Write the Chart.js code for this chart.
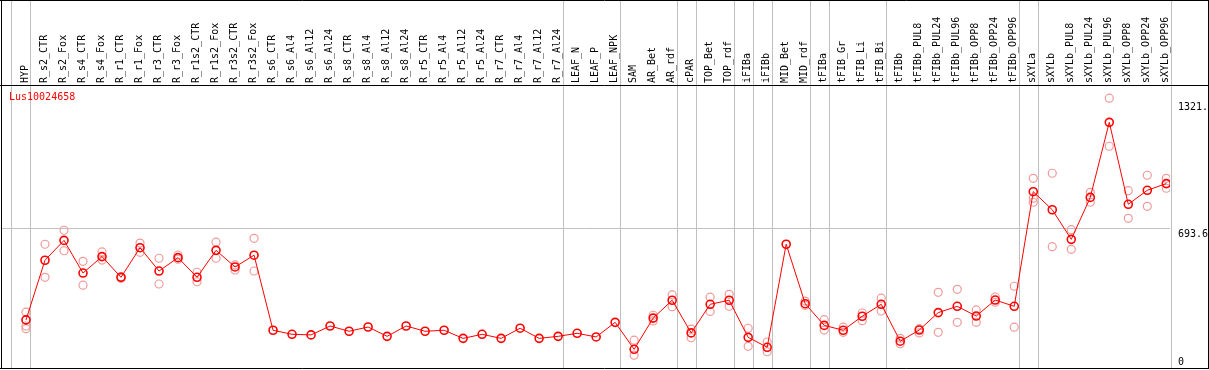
<!DOCTYPE html>
<html>
<head>
<meta charset="utf-8">
<script src="https://cdn.jsdelivr.net/npm/chart.js@4.4.1/dist/chart.umd.min.js"></script>
<style>
  html, body { margin: 0; padding: 0; background: #fff; }
  canvas { display: block; }
</style>
</head>
<body>
<canvas id="expr" width="1209" height="370"></canvas>
<script>
const geneName = "Lus10024658";

const samples = [
  "HYP", "R_s2_CTR", "R_s2_Fox", "R_s4_CTR", "R_s4_Fox", "R_r1_CTR", "R_r1_Fox",
  "R_r3_CTR", "R_r3_Fox", "R_r1s2_CTR", "R_r1s2_Fox", "R_r3s2_CTR", "R_r3s2_Fox",
  "R_s6_CTR", "R_s6_Al4", "R_s6_Al12", "R_s6_Al24", "R_s8_CTR", "R_s8_Al4", "R_s8_Al12",
  "R_s8_Al24", "R_r5_CTR", "R_r5_Al4", "R_r5_Al12", "R_r5_Al24", "R_r7_CTR", "R_r7_Al4",
  "R_r7_Al12", "R_r7_Al24", "LEAF_N", "LEAF_P", "LEAF_NPK", "SAM", "AR_Bet", "AR_rdf",
  "cPAR", "TOP_Bet", "TOP_rdf", "iFIBa", "iFIBb", "MID_Bet", "MID_rdf", "tFIBa",
  "tFIB_Gr", "tFIB_Li", "tFIB_Bi", "tFIBb", "tFIBb_PUL8", "tFIBb_PUL24", "tFIBb_PUL96",
  "tFIBb_OPP8", "tFIBb_OPP24", "tFIBb_OPP96", "sXYLa", "sXYLb", "sXYLb_PUL8",
  "sXYLb_PUL24", "sXYLb_PUL96", "sXYLb_OPP8", "sXYLb_OPP24", "sXYLb_OPP96"
];

// mean expression
const meanValues = [
  242, 536, 634, 473, 554, 452, 598, 483, 549, 452, 585, 503, 561,
  191, 171, 168, 212, 186, 207, 161, 212, 186, 191, 151, 171, 151, 201, 151, 161,
  176, 158, 230, 97, 251, 339, 178, 319, 339, 156, 107, 615, 322, 215,
  191, 260, 319, 137, 192, 278, 309, 261, 340, 309,
  874, 785, 639, 846, 1216, 812, 881, 914
];

// replicates (null where hidden / not present)
const rep1 = [
  280, 615, 684, 531, 577, 447, 621, 546, 562, 477, 625, 513, 644,
  null, null, null, null, null, null, null, null, null, null, null, null, null, null, null, null,
  null, null, null, 142, 265, 365, 197, 354, 368, 201, 133, null, 335, 243,
  206, 276, 349, 151, 199, 378, 393, 291, 355, 408,
  940, 965, 687, 871, 1335, 879, 955, 940
];
const rep2 = [
  212, 452, 583, 413, 537, 455, 575, 419, 541, 430, 546, 488, 483,
  null, null, null, null, null, null, null, null, null, null, null, null, null, null, null, null,
  null, null, null, 68, 237, 307, 154, 284, 309, 112, 85, null, 314, 192,
  181, 238, 286, 125, 178, 181, 230, 230, 329, 206,
  842, 603, 590, 822, 1098, 743, 802, 891
];
const rep3 = [
  199, null, null, null, null, null, null, null, null, null, null, null, null,
  null, null, null, null, null, null, null, null, null, null, null, null, null, null, null, null,
  null, null, null, null, null, null, null, null, null, null, null, null, null, null,
  null, null, null, null, null, null, null, null, null, null,
  822, null, null, null, null, null, null, null
];

// last sample of each tissue group (vertical separators)
const groupEnds = [-1, 0, 28, 31, 34, 35, 37, 38, 39, 41, 42, 45, 52, 53, 60];

const yTickValues = [0, 693.6, 1321.2];
const yTickLabels = ["0", "693.6", "1321."];
const yMax = 1400;

const meanPoints = meanValues.map((v, i) => ({ x: i, y: v }));
const repPoints = [];
[rep1, rep2, rep3].forEach(function (arr) {
  arr.forEach(function (v, i) {
    if (v !== null) repPoints.push({ x: i, y: v });
  });
});

const monoFont = "'DejaVu Sans Mono', 'Liberation Mono', monospace";

const framePlugin = {
  id: "frame",
  beforeDatasetsDraw(chart) {
    const ctx = chart.ctx;
    const area = chart.chartArea;
    const xs = chart.scales.x;
    ctx.save();
    ctx.strokeStyle = "#c0c0c0";
    ctx.lineWidth = 1;
    groupEnds.forEach(function (g) {
      const x = Math.round(xs.getPixelForValue(g + 0.23)) + 0.5;
      ctx.beginPath();
      ctx.moveTo(x, 0);
      ctx.lineTo(x, area.bottom);
      ctx.stroke();
    });
    ctx.restore();
  },
  afterDraw(chart) {
    const ctx = chart.ctx;
    const area = chart.chartArea;
    const ys = chart.scales.y;
    const W = chart.width;
    ctx.save();
    ctx.strokeStyle = "#000";
    ctx.lineWidth = 1;
    ctx.beginPath();
    ctx.moveTo(0, 0.5); ctx.lineTo(W, 0.5);
    ctx.moveTo(0, area.top + 0.5); ctx.lineTo(W, area.top + 0.5);
    ctx.moveTo(0, area.bottom - 0.5); ctx.lineTo(W, area.bottom - 0.5);
    ctx.moveTo(1.5, 0); ctx.lineTo(1.5, area.bottom);
    ctx.moveTo(W - 0.5, 0); ctx.lineTo(W - 0.5, area.bottom);
    ctx.stroke();

    // right value labels
    ctx.fillStyle = "#000";
    ctx.font = "10px " + monoFont;
    ctx.textAlign = "left";
    ctx.textBaseline = "middle";
    yTickValues.forEach(function (v, i) {
      const y = Math.min(ys.getPixelForValue(v) + 6, area.bottom - 7);
      ctx.fillText(yTickLabels[i], area.right + 8, y);
    });

    // gene name
    ctx.fillStyle = "#ff0000";
    ctx.fillText(geneName, 9, area.top + 12);
    ctx.restore();
  }
};

new Chart(document.getElementById("expr"), {
  type: "line",
  data: {
    datasets: [
      {
        label: "mean",
        data: meanPoints,
        borderColor: "#ff0000",
        borderWidth: 1,
        pointRadius: 4,
        pointBorderWidth: 1.6,
        pointBorderColor: "#ff0000",
        pointBackgroundColor: "rgba(255,255,255,0)",
        tension: 0,
      },
      {
        label: "replicates",
        data: repPoints,
        showLine: false,
        pointRadius: 4,
        pointBorderWidth: 1.2,
        pointBorderColor: "#f09a9a",
        pointBackgroundColor: "rgba(255,255,255,0)",
      },
    ],
  },
  options: {
    responsive: false,
    animation: false,
    devicePixelRatio: 1,
    layout: { autoPadding: false, padding: { left: 1, right: 0, top: 0, bottom: 1 } },
    plugins: {
      legend: { display: false },
      tooltip: { enabled: false },
      title: { display: false },
    },
    scales: {
      x: {
        type: "linear",
        position: "top",
        min: -1.315,
        max: 60.195,
        afterBuildTicks: function (s) {
          s.ticks = samples.map((c, i) => ({ value: i }));
        },
        afterFit: function (s) {
          s.height = 85;
          s.paddingLeft = 0;
          s.paddingRight = 0;
        },
        grid: { display: false, drawTicks: false },
        border: { display: false },
        ticks: {
          autoSkip: false,
          minRotation: 90,
          maxRotation: 90,
          padding: 2,
          labelOffset: 11,
          color: "#000",
          font: { family: monoFont, size: 10 },
          callback: function (value, index) {
            return samples[index];
          },
        },
      },
      y: {
        position: "right",
        min: 0,
        max: yMax,
        afterBuildTicks: function (s) {
          s.ticks = yTickValues.map((v) => ({ value: v }));
        },
        afterFit: function (s) {
          s.width = 39;
        },
        grid: {
          drawTicks: false,
          color: function (c) {
            return c.tick && c.tick.value === 693.6 ? "#c0c0c0" : "rgba(0,0,0,0)";
          },
        },
        border: { display: false },
        ticks: { display: false },
      },
    },
  },
  plugins: [framePlugin],
});
</script>
</body>
</html>
